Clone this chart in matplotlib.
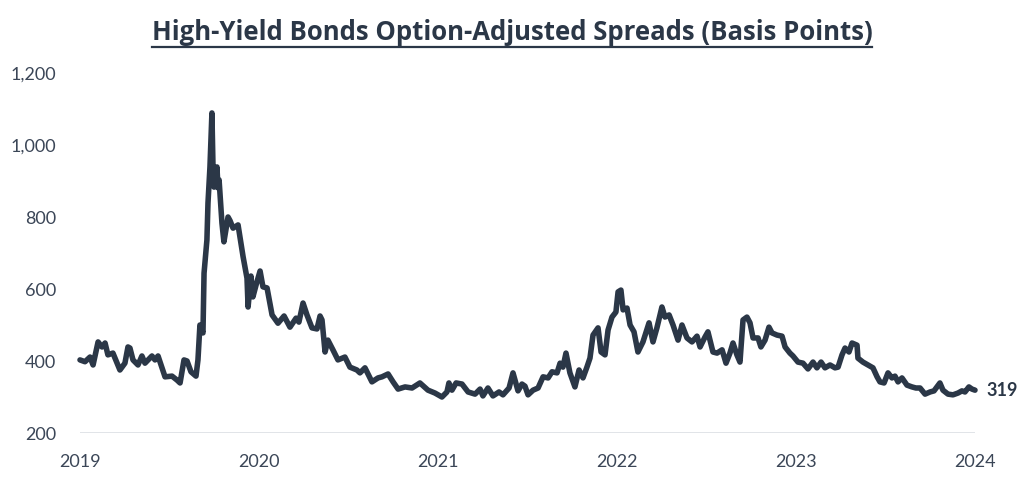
import matplotlib
matplotlib.use("Agg")
import matplotlib.pyplot as plt
from matplotlib.ticker import FuncFormatter
from matplotlib.lines import Line2D

# ---- data (decimal year, spread in bps) ----
years = [
    2019.000, 2019.028, 2019.056, 2019.073, 2019.101, 2019.123, 2019.140, 2019.156, 2019.184, 2019.223,
    2019.251, 2019.268, 2019.279, 2019.296, 2019.324, 2019.346, 2019.363, 2019.402, 2019.419, 2019.436,
    2019.458, 2019.475, 2019.514, 2019.542, 2019.559, 2019.581, 2019.598, 2019.620, 2019.648, 2019.659,
    2019.670, 2019.687, 2019.693, 2019.709, 2019.715, 2019.726, 2019.737, 2019.743, 2019.749, 2019.765,
    2019.771, 2019.777, 2019.793, 2019.804, 2019.827, 2019.838, 2019.855, 2019.883, 2019.894, 2019.911,
    2019.933, 2019.939, 2019.955, 2019.966, 2019.983, 2020.006, 2020.022, 2020.045, 2020.073, 2020.106,
    2020.140, 2020.173, 2020.207, 2020.223, 2020.246, 2020.268, 2020.296, 2020.324, 2020.341, 2020.352,
    2020.369, 2020.385, 2020.413, 2020.441, 2020.480, 2020.508, 2020.547, 2020.564, 2020.592, 2020.631,
    2020.665, 2020.687, 2020.721, 2020.749, 2020.777, 2020.816, 2020.855, 2020.899, 2020.944, 2020.983,
    2021.022, 2021.050, 2021.061, 2021.078, 2021.101, 2021.134, 2021.168, 2021.207, 2021.235, 2021.251,
    2021.279, 2021.307, 2021.341, 2021.363, 2021.397, 2021.419, 2021.447, 2021.469, 2021.486, 2021.503,
    2021.531, 2021.559, 2021.587, 2021.615, 2021.637, 2021.665, 2021.682, 2021.698, 2021.715, 2021.737,
    2021.765, 2021.788, 2021.810, 2021.832, 2021.849, 2021.866, 2021.894, 2021.911, 2021.933, 2021.950,
    2021.972, 2021.994, 2022.006, 2022.022, 2022.034, 2022.056, 2022.073, 2022.095, 2022.117, 2022.145,
    2022.179, 2022.201, 2022.223, 2022.251, 2022.268, 2022.291, 2022.313, 2022.341, 2022.363, 2022.391,
    2022.419, 2022.447, 2022.464, 2022.492, 2022.508, 2022.536, 2022.559, 2022.587, 2022.609, 2022.631,
    2022.648, 2022.670, 2022.687, 2022.704, 2022.726, 2022.743, 2022.760, 2022.788, 2022.804, 2022.827,
    2022.849, 2022.866, 2022.894, 2022.922, 2022.939, 2022.966, 2022.983, 2023.011, 2023.039, 2023.067,
    2023.095, 2023.117, 2023.140, 2023.162, 2023.190, 2023.218, 2023.235, 2023.257, 2023.274, 2023.296,
    2023.313, 2023.341, 2023.346, 2023.374, 2023.402, 2023.430, 2023.453, 2023.469, 2023.492, 2023.514,
    2023.536, 2023.553, 2023.570, 2023.592, 2023.620, 2023.648, 2023.670, 2023.693, 2023.721, 2023.749,
    2023.771, 2023.804, 2023.821, 2023.849, 2023.877, 2023.905, 2023.927, 2023.944, 2023.966, 2023.983,
    2024.000,
]
spreads = [
    403, 398, 411, 389, 453, 439, 450, 417, 422, 375,
    394, 439, 436, 403, 389, 414, 394, 414, 403, 414,
    381, 356, 358, 347, 339, 403, 400, 370, 358, 403,
    500, 478, 644, 736, 839, 939, 1089, 939, 883, 939,
    881, 903, 783, 731, 800, 790, 769, 778, 744, 690,
    630, 550, 636, 578, 610, 650, 606, 603, 528, 505,
    525, 494, 519, 508, 561, 528, 492, 489, 525, 514,
    425, 458, 431, 403, 411, 383, 375, 367, 381, 342,
    353, 356, 364, 342, 322, 328, 325, 339, 319, 311,
    300, 314, 339, 319, 339, 336, 314, 308, 322, 303,
    325, 303, 314, 306, 325, 367, 317, 336, 330, 306,
    319, 325, 356, 353, 370, 367, 394, 383, 422, 367,
    328, 375, 353, 383, 408, 472, 492, 425, 417, 486,
    522, 536, 592, 597, 542, 547, 500, 481, 425, 453,
    506, 453, 492, 550, 522, 528, 500, 458, 500, 464,
    453, 469, 439, 467, 481, 425, 422, 431, 394, 422,
    450, 417, 397, 514, 522, 506, 464, 464, 439, 458,
    494, 478, 472, 469, 439, 422, 414, 397, 394, 378,
    397, 381, 397, 381, 389, 381, 383, 417, 436, 425,
    450, 444, 408, 397, 389, 381, 356, 342, 339, 367,
    353, 358, 342, 353, 333, 328, 325, 325, 308, 314,
    317, 339, 319, 308, 306, 311, 317, 314, 328, 322,
    319,
]
x_ticks = [2019, 2020, 2021, 2022, 2023, 2024]
y_ticks = [200, 400, 600, 800, 1000, 1200]
title = "High-Yield Bonds Option-Adjusted Spreads (Basis Points)"
last_label = "319"

DARK = "#2b3747"
TICK = "#3b4657"

fig = plt.figure(figsize=(10.24, 4.83), dpi=100)
ax = fig.add_axes([80/1024, 50/483, 895/1024, 360/483])

ax.plot(years, spreads, color=DARK, lw=4.0, solid_joinstyle="round",
        solid_capstyle="round", clip_on=False, zorder=3)

ax.set_xlim(2019, 2024)
ax.set_ylim(200, 1200)
ax.set_xticks(x_ticks)
ax.set_yticks(y_ticks)
ax.yaxis.set_major_formatter(FuncFormatter(lambda v, p: f"{int(v):,}"))
ax.xaxis.set_major_formatter(FuncFormatter(lambda v, p: f"{int(v)}"))
for s in ax.spines.values():
    s.set_visible(False)
ax.axhline(200, color="#dcdfe4", lw=1.2, zorder=1)
ax.tick_params(axis="both", length=0, labelsize=13, labelcolor=TICK)
ax.tick_params(axis="y", pad=17)
ax.tick_params(axis="x", pad=15)
for lab in ax.get_xticklabels() + ax.get_yticklabels():
    lab.set_fontfamily("Lato")

ax.annotate(last_label, xy=(years[-1], spreads[-1]), xytext=(8, 0),
            textcoords="offset points", ha="left", va="center",
            fontsize=13, fontweight="bold", color=DARK, family="Lato")

t = fig.text(0.5, 1 - 32/483, title, ha="center", va="center",
             fontsize=18.5, fontweight="bold", color=DARK, family="Open Sans")
fig.canvas.draw()
bb = t.get_window_extent().transformed(fig.transFigure.inverted())
uy = bb.y0 - 1.5/483
fig.add_artist(Line2D([bb.x0, bb.x1], [uy, uy], color=DARK, lw=1.6,
                      transform=fig.transFigure))

fig.savefig("out.png", dpi=100)
